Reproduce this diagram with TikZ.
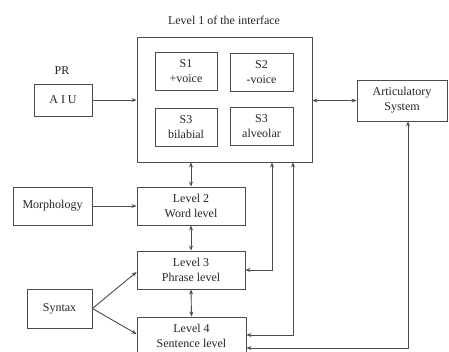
\documentclass[tikz,border=0pt]{standalone}
\usepackage{fontspec}
\setmainfont{Liberation Serif}
\usetikzlibrary{arrows.meta,calc}
\begin{document}
\begin{tikzpicture}[x=1pt,y=-1pt,
  every node/.style={font=\fontsize{12}{15}\selectfont, text=black!85},
  box/.style={draw=black!70, line width=0.9pt, align=center, inner sep=0pt},
  conn/.style={draw=black!70, line width=0.9pt, -{Stealth[length=5pt,width=4pt]}},
  dconn/.style={draw=black!70, line width=0.9pt, {Stealth[length=5pt,width=4pt]}-{Stealth[length=5pt,width=4pt]}}]
\useasboundingbox (0,0) rectangle (449,351);
\clip (0,0) rectangle (449,351);
\fill[white] (0,0) rectangle (449,351);
\node (title) at (224,20) {Level 1 of the interface};
\node[box, minimum width=175pt, minimum height=125pt] (main) at (224.5,99.5) {};
\node[box, minimum width=62pt, minimum height=38pt] (s1) at (186,71) {S1\\+voice};
\node[box, minimum width=63pt, minimum height=38pt] (s2) at (261.5,72) {S2\\-voice};
\node[box, minimum width=62pt, minimum height=38pt] (s3a) at (186,127) {S3\\bilabial};
\node[box, minimum width=63pt, minimum height=38pt] (s3b) at (261.5,126.5) {S3\\alveolar};
\node (pr) at (62,71) {PR};
\node[box, minimum width=58pt, minimum height=32pt] (aiu) at (63,100) {A I U};
\node[box, minimum width=90pt, minimum height=41pt] (art) at (402,100.5) {Articulatory\\System};
\node[box, minimum width=108pt, minimum height=38pt] (l2) at (191,206) {Level 2\\Word level};
\node[box, minimum width=108pt, minimum height=38pt] (l3) at (191,270) {Level 3\\Phrase level};
\node[box, minimum width=109pt, minimum height=38pt] (l4) at (191.5,336) {Level 4\\Sentence level};
\node[box, minimum width=79pt, minimum height=38pt] (morph) at (52.5,206) {Morphology};
\node[box, minimum width=65pt, minimum height=39pt] (syn) at (59.5,308.5) {Syntax};
% connectors
\draw[conn] (aiu.east) -- (aiu.east -| main.west);
\draw[dconn] (main.east |- art.west) -- (art.west);
\draw[dconn] (l2.north) -- (l2.north |- main.south);
\draw[dconn] (l2.south) -- (l3.north);
\draw[dconn] (l3.south) -- (l4.north);
\draw[conn] (morph.east) -- (morph.east -| l2.west);
\draw[conn] (syn.east) -- ($(l3.west)+(0,2)$);
\draw[conn] (syn.east) -- ($(l4.west)+(0,-2)$);
\draw[dconn] (l3.east) -| ($(main.south)+(47.5,0)$);
\draw[dconn] ($(l4.east)+(0,-1)$) -| ($(main.south)+(68.5,0)$);
\draw[dconn] ($(l4.east)+(0,12)$) -| ($(art.south)+(6,0)$);
\end{tikzpicture}
\end{document}
